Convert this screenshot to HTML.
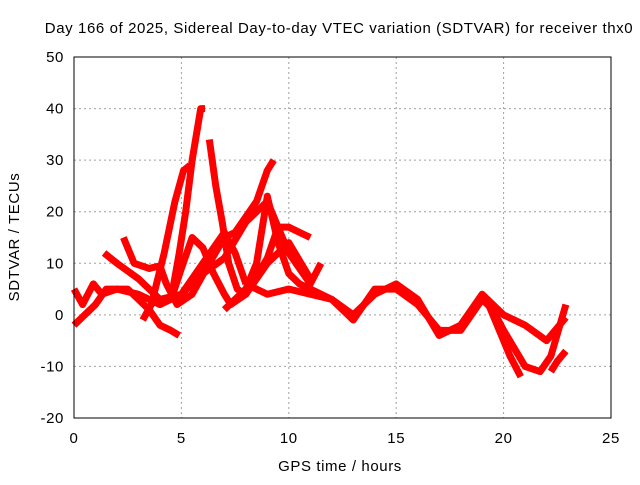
<!DOCTYPE html>
<html><head><meta charset="utf-8"><style>
body{margin:0;background:#fff;width:640px;height:480px;overflow:hidden}
text{font-family:"Liberation Sans",sans-serif;font-size:15px;letter-spacing:0.6px;fill:#000}
</style></head><body>
<svg id="c" width="640" height="480"></svg>
<script>
const xTicks=[0,5,10,15,20,25];
const yTicks=[-20,-10,0,10,20,30,40,50];
const t1h=[0,0.5,1,1.5,2.5,3,3.5,4,4.5,4.9];
const t1v=[-2,0,2,5,5,3,1,-2,-3,-4];
const t2h=[1.4,2,3,4,5,6,7,7.5,8];
const t2v=[12,10,7,3,4,10,16,12,6];
const t3h=[2.3,2.8,3.5,4,4.3,4.8,5.5,6.3,7,7.5,8.5,9,9.3];
const t3v=[15,10,9,9.5,6,2,4,10,15,16,22,28,30];
const t4h=[4.6,5,5.5,6,6.5,7,7.3,8,9,9.5,10,10.5,11];
const t4v=[4,9,15,13,8,4,2,4,11,17,17,16,15];
const t5h=[3.2,3.6,4.2,4.7,5.1,5.4];
const t5v=[-1,2,12,22,28,29];
const t6h=[4.6,4.9,5.2,5.5,5.9,6.1];
const t6v=[5,12,20,30,40,40];
const t7h=[6.3,6.6,6.9,7.2,7.6,8,9,10,11];
const t7v=[34,25,18,10,5,4,10,14,7];
const t8h=[0,0.4,0.9,1.3,2,3,4,5,6,7,8,9,10,11,11.5];
const t8v=[5,2,6,4,5,4,2,4,8,11,18,22,12,6,10];
const t9h=[7,8,8.5,9,9.5,10,10.5,11,12,13,14,15,16,17,18,19,19.5,20,21,21.7,22.2,22.9];
const t9v=[1,5,10,23,14,8,6,5,3,-1,5,5,2,-3,-3,3,1,-3,-10,-11,-8,2];
const t10h=[8,9,10,11,12,13,14,15,16,17,18,19,20,21,22,22.9];
const t10v=[6,4,5,4,3,0,4,6,3,-4,-2,4,0,-2,-5,-0.5];
const t11h=[19.3,19.8,20.3,20.8];
const t11v=[2,-3,-8,-12];
const t12h=[22.2,22.5,22.9];
const t12v=[-11,-9,-7];
const tracks=[[t1h,t1v],[t2h,t2v],[t3h,t3v],[t4h,t4v],[t5h,t5v],[t6h,t6v],[t7h,t7v],[t8h,t8v],[t9h,t9v],[t10h,t10v],[t11h,t11v],[t12h,t12v]];
const X=h=>74+h*(537/25), Y=v=>57+(50-v)*(361/70);
const s=document.getElementById('c'),NS='http://www.w3.org/2000/svg';
function mk(t,a){const e=document.createElementNS(NS,t);for(const k in a)e.setAttribute(k,a[k]);s.appendChild(e);return e;}
xTicks.forEach(t=>{const g=mk('line',{x1:X(t),x2:X(t),y1:57,y2:418,stroke:'#a0a0a0','stroke-dasharray':'2,3'});


const l=mk('text',{x:X(t),y:443,'text-anchor':'middle'});l.textContent=t;

});
yTicks.forEach(t=>{const g=mk('line',{x1:74,x2:611,y1:Y(t),y2:Y(t),stroke:'#a0a0a0','stroke-dasharray':'2,3'});


const l=mk('text',{x:64,y:Y(t)+5,'text-anchor':'end'});l.textContent=t;

});
tracks.forEach(([h,v])=>{const p=mk('polyline',{points:h.map((x,i)=>X(x)+','+Y(v[i])).join(' '),fill:'none',stroke:'#f00','stroke-width':7,'stroke-linejoin':'round'});

});
const f=mk('rect',{x:74,y:57,width:537,height:361,fill:'none',stroke:'#000'});


</script>
<svg width="640" height="480" style="position:absolute;left:0;top:0">
<text x="339" y="33" text-anchor="middle">Day 166 of 2025, Sidereal Day-to-day VTEC variation (SDTVAR) for receiver thx0</text>
<text x="340" y="471" text-anchor="middle">GPS time / hours</text>
<text x="19" y="237" text-anchor="middle" transform="rotate(-90 19 237)">SDTVAR / TECUs</text>
</svg>
</body></html>
